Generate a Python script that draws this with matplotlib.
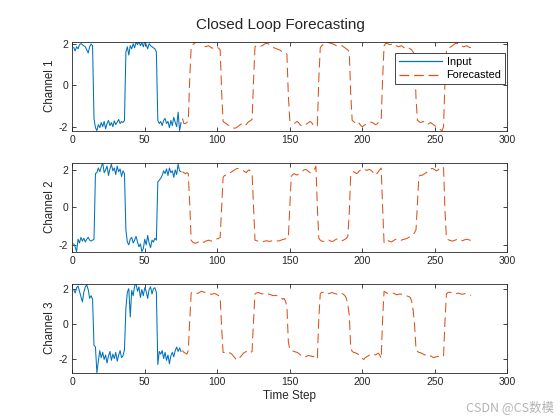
import numpy as np
import matplotlib
matplotlib.use("Agg")
import matplotlib.pyplot as plt

# observed input (time steps 1..75)
input_ch1 = [1.82, 1.65, 1.85, 1.75, 1.95, 2.0, 1.95, 1.9, 1.85, 1.7, 1.55, 1.85, 1.98, 1.9,
             -1.6, -2.05, -2.19,
             -1.9, -2.05, -1.8, -2.0, -1.75, -2.1, -1.85, -1.7, -1.95, -1.8, -2.0, -1.72, -1.9,
             -1.78, -1.65, -1.85, -1.75, -1.8, -1.7,
             1.6, 1.85, 1.45, 1.9, 1.75, 2.0, 1.8, 2.08, 1.95, 2.1, 1.9, 2.05, 1.85, 2.1, 1.95,
             1.75, 2.0, 1.9, 1.85, 1.8, 1.75, 1.6,
             -1.7,
             -1.85, -1.75, -1.95, -1.7, -1.6, -1.85, -1.75, -2.05, -1.7, -1.95, -1.55, -1.8,
             -2.0, -1.3, -2.19, -1.8]
input_ch2 = [-1.95, -2.1, -2.36, -1.7, -1.9, -1.6, -1.8, -1.65, -1.85, -1.7, -1.6, -1.75, -1.8,
             -1.75, -1.7,
             1.8, 1.85, 2.1, 1.9, 2.15, 2.39, 1.85, 2.0, 2.2, 1.7, 2.05, 2.3, 1.95, 2.1, 1.75,
             2.2, 1.9, 2.05, 1.65, 1.95, 1.8,
             -1.2,
             -1.85, -2.0, -1.7, -1.6, -1.9, -1.75, -1.55, -1.85, -2.1, -1.95, -2.36, -2.2, -1.7,
             -2.0, -1.5, -1.9, -2.15, -1.75, -1.85, -1.65, -1.75,
             1.35,
             1.45, 1.55, 1.7, 1.95, 1.8, 2.05, 1.7, 2.1, 1.85, 1.95, 1.6, 2.0, 1.75, 2.3, 1.95, 1.9]
input_ch3 = [1.95, 1.75, 2.05, 2.15, 1.85, 1.55, 1.25, 1.8, 2.1, 2.21, 1.95, 1.45, 1.6, 1.4,
             -1.2, -1.3, -2.75, -2.1,
             -1.5, -1.9, -1.6, -2.0, -1.75, -2.2, -1.8, -1.55, -2.05, -1.7, -1.95, -1.6, -2.1,
             -1.75, -1.5, -1.9, -1.8, -1.45,
             0.9, 1.8, 2.0, 0.4, 1.9, 1.6, 2.15, 2.28, 1.85, 2.1, 1.5, 1.95, 1.6, 2.05, 1.85,
             1.45, 1.95, 2.1, 1.7, 2.0, 2.05, 1.8,
             -2.29,
             -1.55, -1.7, -1.5, -1.95, -1.6, -2.05, -1.75, -2.25, -1.8, -1.6, -1.85, -1.5, -1.3,
             -1.55, -1.35, -1.55]

# closed loop forecast (time steps 76..275)
forecast_ch1 = [-1.6, -1.85, -1.85, -1.8, -1.7,
                0.3,
                1.85, 1.95, 2.0, 2.05, 2.08, 2.1, 2.1, 2.05, 1.98, 1.9, 1.85, 1.88, 1.9, 1.85,
                1.8, 1.78, 1.75, 1.8, 1.82, 1.78, 1.7,
                -0.3,
                -1.75, -1.8, -1.85, -1.9, -1.95, -2.0, -2.02, -2.05, -2.08, -2.05, -2.0, -1.95,
                -1.9, -1.85, -1.9, -1.95, -1.9, -1.8, -1.75, -1.7, -1.65,
                0.2,
                1.85, 1.9, 1.92, 1.9, 1.88, 1.9, 1.95, 2.0, 2.02, 2.0, 1.95, 1.9, 1.85, 1.8, 1.78,
                1.75, 1.72, 1.7, 1.65, 1.6, 1.58, 1.55, 1.5,
                -0.5,
                -1.7, -1.75, -1.8, -1.85, -1.8, -1.75, -1.8, -1.9, -1.95, -1.98, -1.95, -1.9,
                -1.85, -1.8, -1.75, -1.8, -1.9, -1.95, -2.0, -1.95,
                0.3,
                1.8, 1.9, 1.95, 2.0, 2.02, 2.05, 2.05, 2.02, 2.0, 1.98, 1.95, 1.9, 1.88, 1.9, 1.92,
                1.9, 1.85, 1.8, 1.75, 1.7, 1.6,
                -0.4,
                -1.7, -1.75, -1.82, -1.8, -1.75, -1.85, -1.95, -2.0, -1.95, -1.9, -1.88, -1.85,
                -1.8, -1.78, -1.8, -1.85, -1.9, -1.88, -1.8, -1.75, -1.7,
                0.3,
                1.9, 2.0, 2.02, 1.98, 1.95, 1.97, 2.0, 1.98, 1.92, 1.88, 1.85, 1.88, 1.9, 1.85, 1.8,
                1.82, 1.85, 1.8, 1.75, 1.7, 1.6, 1.5,
                -0.6,
                -1.7, -1.75, -1.8, -1.78, -1.75, -1.8, -1.85, -1.9, -1.85, -1.8, -1.85, -1.9, -1.95,
                -2.0, -2.05, -2.1, -2.15, -2.19, -2.0,
                0.2,
                1.7, 1.75, 1.8, 1.85, 1.9, 1.95, 2.0, 2.02, 2.0, 1.95, 1.9, 1.88, 1.85, 1.88, 1.9,
                1.85, 1.82, 1.8]
forecast_ch2 = [1.9, 1.85, 1.8, 1.85, 1.8,
                0.2,
                -1.75, -1.85, -1.9, -1.92, -1.88, -1.85, -1.8, -1.85, -1.88, -1.85, -1.8, -1.78,
                -1.75, -1.78, -1.8, -1.75, -1.72, -1.7, -1.68, -1.65, -1.6,
                0.0,
                1.6, 1.7, 1.72, 1.75, 1.78, 1.85, 1.9, 1.95, 2.0, 2.05, 2.08, 2.05, 2.0, 1.98, 1.95,
                1.9, 1.85, 1.95, 2.0, 1.9, 1.8,
                0.0,
                -1.75, -1.78, -1.8, -1.82, -1.85, -1.85, -1.82, -1.8, -1.78, -1.8, -1.82, -1.8,
                -1.78, -1.75, -1.75, -1.78, -1.8, -1.78, -1.75, -1.72, -1.7, -1.68, -1.65, -1.6,
                0.0,
                1.65, 1.75, 1.8, 1.75, 1.72, 1.78, 1.85, 1.9, 1.95, 2.0, 2.02, 1.98, 1.9, 1.85, 1.9,
                1.95, 2.0, 2.2,
                0.0,
                -1.65, -1.75, -1.8, -1.82, -1.8, -1.75, -1.72, -1.75, -1.8, -1.82, -1.8, -1.75,
                -1.7, -1.68, -1.7, -1.75, -1.78, -1.75, -1.7, -1.65, -1.55,
                -0.3,
                1.75, 1.85, 1.9, 1.85, 1.8, 1.85, 1.95, 2.0, 2.05, 2.05, 2.0, 1.98, 2.0, 2.02, 1.98,
                1.9, 1.8, 1.72, 1.8, 1.9, 2.0, 2.1,
                0.0,
                -1.92, -1.85, -1.8, -1.78, -1.82, -1.85, -1.8, -1.75, -1.7, -1.72, -1.75, -1.78,
                -1.75, -1.72, -1.7, -1.68, -1.65, -1.6, -1.55, -1.5, -1.45, -1.35, -1.2,
                0.2,
                1.65, 1.72, 1.7, 1.75, 1.8, 1.85, 1.9, 1.95, 2.05, 2.08, 2.05, 2.0, 1.95, 1.98, 2.05,
                2.12, 2.17, 2.1,
                -0.2,
                -1.65, -1.72, -1.75, -1.78, -1.8, -1.78, -1.75, -1.72, -1.7, -1.72, -1.75, -1.78,
                -1.75, -1.72, -1.7, -1.72, -1.75, -1.75]
forecast_ch3 = [-1.5, -1.6, -1.65, -1.7, -1.5,
                0.2,
                1.75, 1.8, 1.78, 1.75, 1.72, 1.75, 1.8, 1.85, 1.82, 1.8, 1.78, 1.75, 1.72, 1.7,
                1.68, 1.7, 1.72, 1.7, 1.65, 1.6, 1.5,
                -0.2,
                -1.6, -1.62, -1.65, -1.63, -1.6, -1.65, -1.7, -1.8, -1.9, -2.0, -2.03, -1.95, -1.85,
                -1.75, -1.65, -1.6, -1.55, -1.5, -1.55, -1.6, -1.55,
                0.2,
                1.7, 1.75, 1.78, 1.76, 1.72, 1.7, 1.72, 1.75, 1.72, 1.7, 1.68, 1.65, 1.62, 1.6,
                1.62, 1.6, 1.58, 1.55, 1.5, 1.4, 1.45, 1.3, 1.0,
                -1.0,
                -1.45, -1.5, -1.52, -1.55, -1.58, -1.6, -1.65, -1.72, -1.8, -1.85, -1.88, -1.85,
                -1.8, -1.78, -1.8, -1.82, -1.85, -1.8, -1.75, -1.9,
                0.3,
                1.7, 1.8, 1.78, 1.75, 1.72, 1.7, 1.72, 1.75, 1.78, 1.75, 1.72, 1.7, 1.68, 1.65, 1.7,
                1.72, 1.68, 1.6, 1.45, 1.1, 0.5,
                -1.3,
                -1.55, -1.6, -1.62, -1.65, -1.7, -1.75, -1.85, -1.95, -2.0, -1.9, -1.85, -1.8,
                -1.75, -1.7, -1.68, -1.7, -1.75, -1.7, -1.65, -1.75, -1.95,
                0.3,
                1.85, 1.8, 1.75, 1.72, 1.7, 1.72, 1.75, 1.72, 1.68, 1.65, 1.68, 1.7, 1.68, 1.65,
                1.62, 1.6, 1.58, 1.55, 1.5, 1.3, 0.8, 0.0,
                -1.4, -1.55, -1.6, -1.62, -1.65, -1.7, -1.75, -1.72, -1.7, -1.75, -1.8, -1.85, -1.9,
                -1.88, -1.85, -1.82, -1.85, -1.88, -1.85, -1.8,
                0.2,
                1.7, 1.78, 1.8, 1.78, 1.75, 1.72, 1.7, 1.72, 1.75, 1.72, 1.7, 1.68, 1.7, 1.72, 1.7,
                1.68, 1.65, 1.62]

inputs = [input_ch1, input_ch2, input_ch3]
forecasts = [forecast_ch1, forecast_ch2, forecast_ch3]
channel_names = ["Channel 1", "Channel 2", "Channel 3"]
x_ticks = [0, 50, 100, 150, 200, 250, 300]
y_ticks = [-2, 0, 2]

plt.rcParams["font.family"] = ["Liberation Sans", "DejaVu Sans"]
plt.rcParams["axes.unicode_minus"] = False
plt.rcParams["lines.scale_dashes"] = False

blue = "#0072BD"
orange = "#D95319"
dark = "#262626"

fig = plt.figure(figsize=(5.6, 4.2), dpi=100)
bottoms = [0.689, 0.401, 0.1126]

for i in range(3):
    ax = fig.add_axes([0.129, bottoms[i], 0.777, 0.212])
    x_in = np.arange(1, len(inputs[i]) + 1)
    x_fc = np.arange(len(inputs[i]) + 1, len(inputs[i]) + len(forecasts[i]) + 1)
    ax.plot(x_in, inputs[i], color=blue, lw=0.75, label="Input")
    ax.plot(x_fc, forecasts[i], color=orange, lw=0.75, dashes=(7, 3.5), label="Forecasted")

    ax.set_xlim(0, 300)
    all_vals = np.concatenate([inputs[i], forecasts[i]])
    ax.set_ylim(all_vals.min(), all_vals.max())
    ax.set_xticks(x_ticks)
    ax.set_yticks(y_ticks)
    ax.tick_params(direction="in", length=3, width=0.6, colors=dark, labelsize=7.5,
                   top=True, right=True, pad=3)
    for s in ax.spines.values():
        s.set_linewidth(0.6)
        s.set_color(dark)
    ax.set_ylabel(channel_names[i], fontsize=8.3, color=dark, labelpad=2)

    if i == 0:
        leg = ax.legend(loc="upper right", bbox_to_anchor=(0.995, 0.873), fontsize=7.8,
                        handlelength=4.0, fancybox=False, edgecolor=dark, framealpha=1,
                        borderpad=0.35, labelspacing=0.35, handletextpad=0.4,
                        borderaxespad=0)
        leg.get_frame().set_linewidth(0.6)
        for h in leg.legend_handles:
            h.set_linewidth(0.9)
    if i == 2:
        ax.set_xlabel("Time Step", fontsize=8.5, color=dark, labelpad=2)

fig.suptitle("Closed Loop Forecasting", fontsize=11, color=dark, y=0.958)

fig.text(0.99, 0.03, "CSDN @CS数模", ha="right", va="center", fontsize=9, color="#b4b4b4",
         family=["Noto Sans CJK SC", "DejaVu Sans"])

fig.savefig("out.png", dpi=100)
